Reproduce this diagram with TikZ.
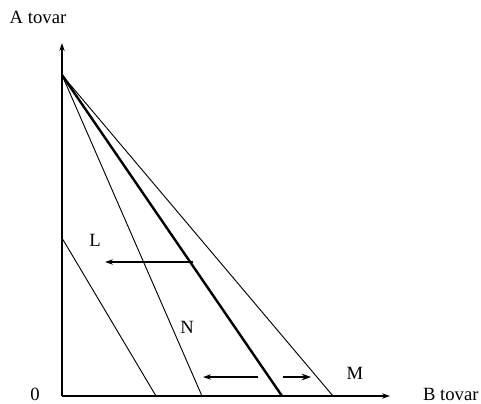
\documentclass[tikz,border=0pt]{standalone}
\usepackage{fontspec}
\setmainfont{Liberation Serif}
\usetikzlibrary{arrows.meta}

\begin{document}
\begin{tikzpicture}[x=0.75pt, y=-0.75pt, line width=0.7pt, font=\fontsize{14}{16}\selectfont]
  \useasboundingbox (0,0) rectangle (481,403);
  \coordinate (O) at (62,396);
  \coordinate (Y) at (62,43);
  \coordinate (X) at (390,396);
  \coordinate (P) at (62,75);      % common intercept on A axis
  \coordinate (Q) at (62,238);     % lower intercept, budget line L
  \coordinate (E) at (282,396);    % thick line
  \coordinate (M) at (333,396);
  \coordinate (N) at (202,396);
  \coordinate (L) at (156,396);

  % axes
  \draw[line width=1.1pt, -{Stealth[length=6pt,width=4pt]}] (O)--(Y);
  \draw[line width=1.1pt, -{Stealth[length=6pt,width=4pt]}] (O)--(X);

  % budget lines
  \draw[line width=1.8pt] (P)--(E);
  \draw (P)--(M);
  \draw (P)--(N);
  \draw (Q)--(L);

  % shifts
  \coordinate (L1) at (193,262);
  \coordinate (L2) at (105,262);
  \draw[line width=1pt, -{Stealth[length=6pt,width=4pt]}] (L1)--(L2);
  \coordinate (N1) at (258,377);
  \coordinate (N2) at (203,377);
  \draw[line width=1pt, -{Stealth[length=6pt,width=4pt]}] (N1)--(N2);
  \coordinate (M1) at (283,377);
  \coordinate (M2) at (311,377);
  \draw[line width=1pt, -{Stealth[length=7pt,width=5pt]}] (M1)--(M2);

  \node (labA) at (38,17) {A tovar};
  \node[anchor=base east, inner sep=0pt] (labB) at (479,400) {B tovar};
  \node (lab0) at (35,394) {0};
  \node (labL) at (95,240) {L};
  \node (labN) at (187,327) {N};
  \node (labM) at (355,373) {M};
\end{tikzpicture}
\end{document}
